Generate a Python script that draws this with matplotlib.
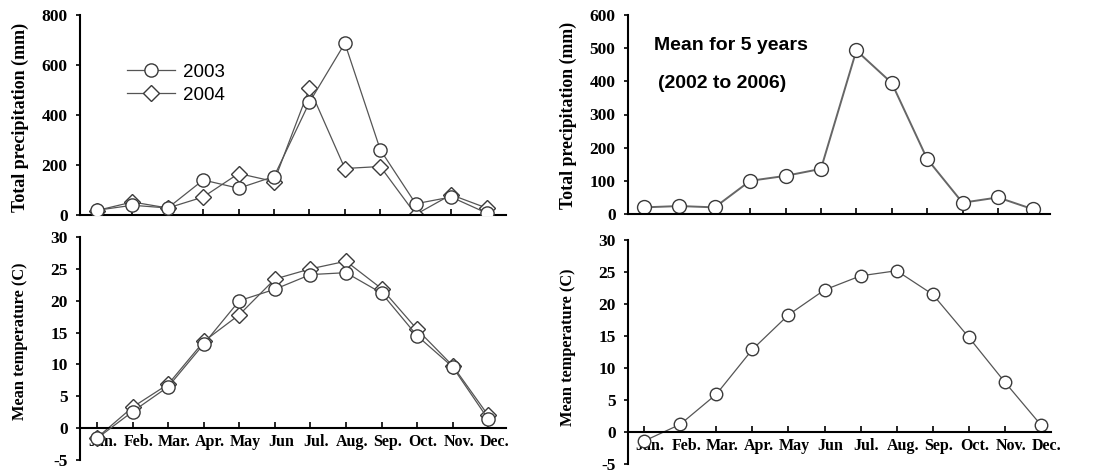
import numpy as np
import matplotlib.pyplot as plt
import matplotlib.transforms as mtransforms

months = ["Jan.", "Feb.", "Mar.", "Apr.", "May", "Jun", "Jul.", "Aug.",
          "Sep.", "Oct.", "Nov.", "Dec."]
x = np.arange(1, 13)

# precipitation (mm)
precip_2003 = [19, 39, 28, 140, 107, 154, 451, 687, 261, 45, 72, 8]
precip_2004 = [18, 52, 28, 72, 166, 134, 507, 186, 194, 2, 81, 28]
precip_mean = [20, 24, 20, 100, 115, 136, 493, 395, 166, 34, 50, 14]

# mean temperature (C)
temp_2003 = [-1.6, 2.6, 6.5, 13.2, 20.0, 21.8, 24.1, 24.4, 21.2, 14.5, 9.6, 1.4]
temp_2004 = [-1.5, 3.3, 6.9, 13.6, 17.8, 23.4, 25.0, 26.2, 21.9, 15.5, 9.8, 2.0]
temp_mean = [-1.4, 1.2, 5.9, 12.9, 18.3, 22.2, 24.4, 25.2, 21.5, 14.8, 7.8, 1.1]

plt.rcParams['font.family'] = 'Liberation Serif'
plt.rcParams['font.weight'] = 'bold'
plt.rcParams['font.size'] = 12.5
plt.rcParams['axes.unicode_minus'] = False

fig = plt.figure(figsize=(10.96, 4.72), dpi=100)
W, H = 1096, 472


def box(l, t, r, b):
    return [l / W, 1 - b / H, (r - l) / W, (b - t) / H]


ax1 = fig.add_axes(box(80, 15, 506, 215))
ax2 = fig.add_axes(box(628, 15, 1050, 214))
ax3 = fig.add_axes(box(80, 237, 506, 460))
ax4 = fig.add_axes(box(628, 240, 1051, 464))

lc = '#555555'
mk = dict(markerfacecolor='white', markeredgecolor='#3a3a3a', markeredgewidth=1.0)


def style(ax):
    for s in ['top', 'right']:
        ax.spines[s].set_visible(False)
    ax.spines['left'].set_linewidth(1.5)
    ax.spines['bottom'].set_linewidth(1.5)
    ax.tick_params(axis='y', direction='out', length=3, width=1.2, pad=6)
    ax.tick_params(axis='x', direction='in', length=4, width=1.2, pad=4, labelsize=11.5)
    ax.set_xticks(x)


def shift_labels(ax, dx=6):
    off = mtransforms.ScaledTranslation(dx / 100, 0, fig.dpi_scale_trans)
    for lab in ax.get_xticklabels():
        lab.set_transform(lab.get_transform() + off)


# top left
ax1.plot(x, precip_2004, color=lc, lw=0.9, marker='D', ms=8, **mk, label='2004', zorder=2)
ax1.plot(x, precip_2003, color=lc, lw=0.9, marker='o', ms=9.5, **mk, label='2003', zorder=3)
ax1.set_xlim(0.52, 12.55)
ax1.set_ylim(0, 800)
ax1.set_yticks([0, 200, 400, 600, 800])
style(ax1)
ax1.set_xticklabels([])
h, l = ax1.get_legend_handles_labels()
ax1.legend([h[1], h[0]], [l[1], l[0]], loc='upper left', bbox_to_anchor=(0.07, 0.84),
           frameon=False, handlelength=2.6, labelspacing=0.3, handletextpad=0.4,
           prop=dict(family='Liberation Sans', weight='normal', size=13.5))

# top right
ax2.plot(x, precip_mean, color='#666666', lw=1.4, marker='o', ms=10, **mk)
ax2.set_xlim(0.55, 12.47)
ax2.set_ylim(0, 600)
ax2.set_yticks(range(0, 601, 100))
style(ax2)
ax2.set_xticklabels([])
ax2.text(0.062, 0.849, "Mean for 5 years", transform=ax2.transAxes, va='center',
         family='Liberation Sans', weight='bold', size=14)
ax2.text(0.071, 0.658, "(2002 to 2006)", transform=ax2.transAxes, va='center',
         family='Liberation Sans', weight='bold', size=14)

# bottom left
ax3.plot(x, temp_2004, color=lc, lw=0.9, marker='D', ms=8, **mk, zorder=2)
ax3.plot(x, temp_2003, color=lc, lw=0.9, marker='o', ms=9.5, **mk, zorder=3)
ax3.set_xlim(0.52, 12.5)
ax3.set_ylim(-5, 30)
ax3.set_yticks(range(-5, 31, 5))
style(ax3)
ax3.spines['bottom'].set_position(('data', 0))
ax3.set_xticklabels(months)
shift_labels(ax3)

# bottom right
ax4.plot(x, temp_mean, color=lc, lw=0.9, marker='o', ms=9, **mk)
ax4.set_xlim(0.55, 12.28)
ax4.set_ylim(-5, 30)
ax4.set_yticks(range(-5, 31, 5))
style(ax4)
ax4.spines['bottom'].set_position(('data', 0))
ax4.set_xticklabels(months)
shift_labels(ax4)

# y labels
fig.text(20 / W, 1 - 117 / H, "Total precipitation (mm)", rotation=90, ha='center', va='center', size=13)
fig.text(568 / W, 1 - 115 / H, "Total precipitation (mm)", rotation=90, ha='center', va='center', size=12.8)
fig.text(20 / W, 1 - 341 / H, "Mean temperature (C)", rotation=90, ha='center', va='center', size=11.8)
fig.text(568 / W, 1 - 347 / H, "Mean temperature (C)", rotation=90, ha='center', va='center', size=11.8)

fig.savefig("out.png", dpi=100)
